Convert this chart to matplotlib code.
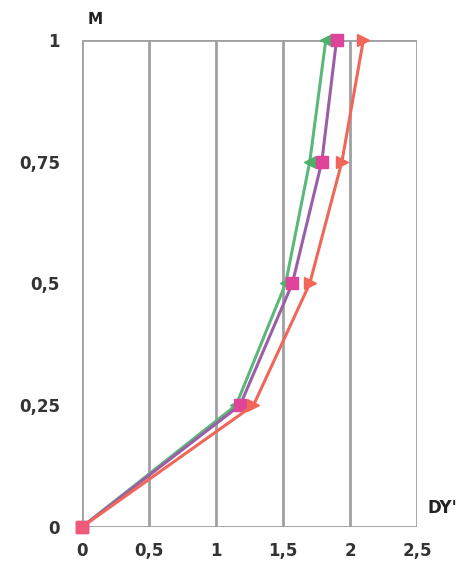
import matplotlib
matplotlib.use('Agg')
import matplotlib.pyplot as plt

# depth levels (M) and the three DY' curves
levels = [0, 0.25, 0.5, 0.75, 1.0]
dy_green = [0, 1.15, 1.52, 1.70, 1.82]
dy_purple = [0, 1.18, 1.57, 1.79, 1.90]
dy_red = [0, 1.28, 1.70, 1.94, 2.10]

x_ticks = [0, 0.5, 1, 1.5, 2, 2.5]
x_labels = ['0', '0,5', '1', '1,5', '2', '2,5']
y_ticks = [0, 0.25, 0.5, 0.75, 1]
y_labels = ['0', '0,25', '0,5', '0,75', '1']

fig = plt.figure(figsize=(4.69, 5.72), dpi=100)
ax = fig.add_axes([0.1748, 0.0787, 0.7142, 0.8515])

grid_col = '#a0a0a4'
for xv in x_ticks:
    ax.axvline(xv, color=grid_col, lw=2, zorder=1)
ax.axhline(0, color=grid_col, lw=2, zorder=1)
ax.axhline(1, color=grid_col, lw=2, zorder=1)

ax.plot(dy_green, levels, color='#5cb87a', lw=2.2, marker='<', ms=8,
        mfc='#4caf6a', mec='#4caf6a', zorder=3, clip_on=False)
ax.plot(dy_purple, levels, color='#9b5fa8', lw=2.2, marker='s', ms=8,
        mfc='#e0449a', mec='#e0449a', zorder=4, clip_on=False)
ax.plot(dy_red, levels, color='#f0675a', lw=2.2, marker='>', ms=8,
        mfc='#f0675a', mec='#f0675a', zorder=5, clip_on=False)
# origin marker drawn as square on top
ax.plot([dy_purple[0]], [levels[0]], marker='s', ms=8, color='#f05a78',
        zorder=6, clip_on=False)

ax.set_xlim(0, 2.5)
ax.set_ylim(0, 1)
for s in ax.spines.values():
    s.set_visible(False)

ax.set_xticks(x_ticks)
ax.set_xticklabels(x_labels)
ax.set_yticks(y_ticks)
ax.set_yticklabels(y_labels)
ax.tick_params(length=0, labelsize=12, colors='#333333')
ax.tick_params(axis='y', pad=16)
ax.tick_params(axis='x', pad=11)
for lab in ax.get_xticklabels() + ax.get_yticklabels():
    lab.set_fontweight('bold')

fig.text(95 / 469, 1 - 20 / 572, 'M', fontsize=11, fontweight='bold',
         color='#222222', ha='center', va='center')
fig.text(442 / 469, 1 - 508 / 572, "DY'", fontsize=12, fontweight='bold',
         color='#222222', ha='center', va='center')

fig.savefig('out.png', dpi=100, facecolor='white')
